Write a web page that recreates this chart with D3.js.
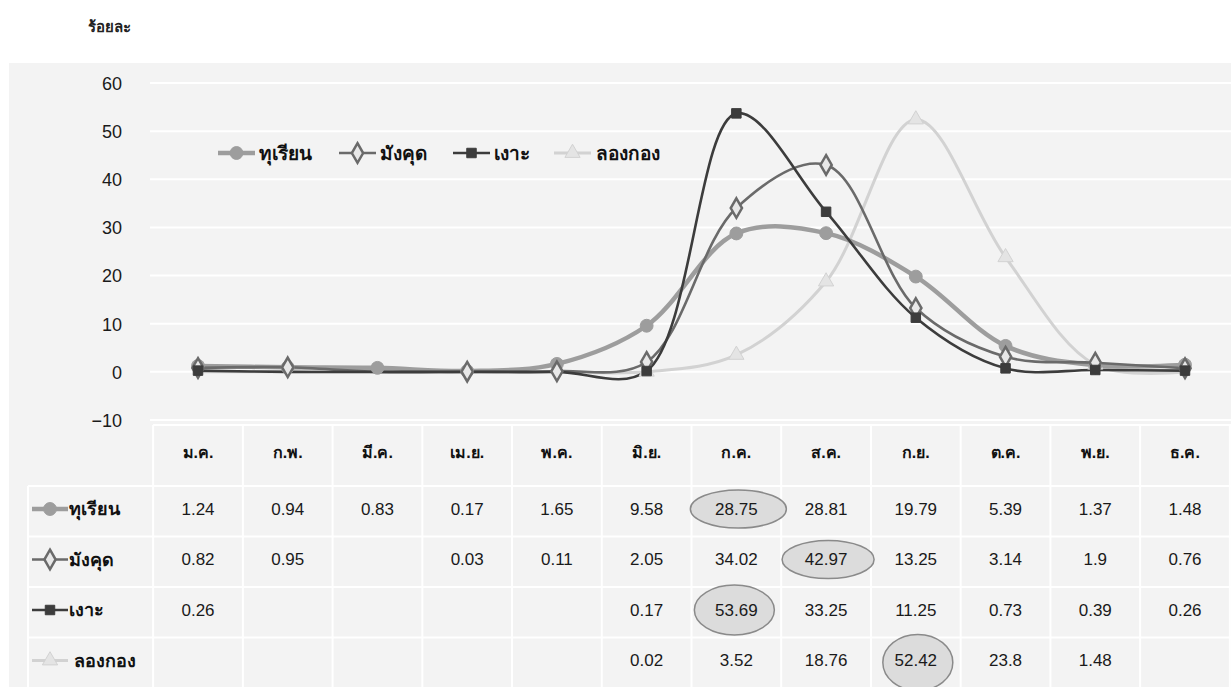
<!DOCTYPE html>
<html><head><meta charset="utf-8">
<script src="https://cdn.jsdelivr.net/npm/d3@7"></script>
<style>
body{margin:0;background:#fff;}
svg{display:block;font-family:"Liberation Sans",Arial,"Noto Sans",sans-serif;}
</style></head>
<body><svg id="c" width="1231" height="687"></svg>
<script>
const months = ["ม.ค.","ก.พ.","มี.ค.","เม.ย.","พ.ค.","มิ.ย.","ก.ค.","ส.ค.","ก.ย.","ต.ค.","พ.ย.","ธ.ค."];
const durian   = [1.24,0.94,0.83,0.17,1.65,9.58,28.75,28.81,19.79,5.39,1.37,1.48];
const mangosteen = [0.82,0.95,null,0.03,0.11,2.05,34.02,42.97,13.25,3.14,1.9,0.76];
const rambutan = [0.26,null,null,null,null,0.17,53.69,33.25,11.25,0.73,0.39,0.26];
const longkong = [null,null,null,null,null,0.02,3.52,18.76,52.42,23.8,1.48,null];
const seriesNames = ["ทุเรียน","มังคุด","เงาะ","ลองกอง"];
const yTicks = [-10,0,10,20,30,40,50,60];
const highlights = [[0,6],[1,7],[2,6],[3,8]]; // [series, month]
const yLabel = "ร้อยละ";

const seriesData = [durian, mangosteen, rambutan, longkong];
const styles = [
  {color:"#9d9d9d", width:4.5, marker:d3.symbolCircle, size:130, fill:"#9d9d9d"},
  {color:"#6a6a6a", width:2.6, marker:d3.symbolDiamond, size:110, fill:"#e8e8e8"},
  {color:"#3c3c3c", width:2.6, marker:d3.symbolSquare, size:90, fill:"#3c3c3c"},
  {color:"#d2d2d2", width:3, marker:d3.symbolTriangle, size:100, fill:"#e4e4e4"}
];

const svg = d3.select("#c");
const W=1231;
svg.append("rect").attr("x",9).attr("y",63).attr("width",W-9).attr("height",624).attr("fill","#f3f3f3");

const x = d3.scalePoint().domain(months).range([198,1185]);
const step = x.step();
const y = d3.scaleLinear().domain([-10,60]).range([420,83]);

svg.append("g").selectAll("line").data(yTicks).join("line")
  .attr("x1",150).attr("x2",W).attr("y1",d=>y(d)).attr("y2",d=>y(d))
  .attr("stroke","#fff").attr("stroke-width",2);

const yAxis = d3.axisLeft(y).tickValues(yTicks).tickSize(0).tickPadding(0)
  .tickFormat(d=> d<0 ? "\u2212"+Math.abs(d) : d);
const ga = svg.append("g").attr("transform","translate(122,0)").call(yAxis);
ga.select(".domain").remove();
ga.selectAll("text").attr("font-size",18).attr("fill","#1a1a1a").attr("dy","0.35em");

svg.append("text").attr("x",88).attr("y",32).attr("font-size",15).attr("font-weight","bold").attr("fill","#222").text(yLabel);

const line = d3.line().x((d,i)=>x(months[i])).y(d=>y(d==null?0:d)).curve(d3.curveCatmullRom.alpha(0.5));
const order=[3,0,1,2];
order.forEach(si=>{
  const s=styles[si];
  svg.append("path").datum(seriesData[si]).attr("d",line).attr("fill","none")
    .attr("stroke",s.color).attr("stroke-width",s.width).attr("stroke-linejoin","round");
});
order.forEach(si=>{
  const s=styles[si];
  svg.append("g").selectAll("path").data(seriesData[si].map((v,i)=>({v,i})).filter(d=>d.v!=null)).join("path")
    .attr("transform",d=>`translate(${x(months[d.i])},${y(d.v)})`)
    .attr("d",d3.symbol().type(s.marker).size(s.size))
    .attr("fill",s.fill).attr("stroke",s.color).attr("stroke-width",si==1?2.5:1);
});

// legend
const legX=[218,339,453,554], legT=[259,380,494,596];
seriesNames.forEach((n,si)=>{
  const s=styles[si], g=svg.append("g");
  g.append("line").attr("x1",legX[si]).attr("x2",legX[si]+37).attr("y1",153).attr("y2",153).attr("stroke",s.color).attr("stroke-width",s.width);
  g.append("path").attr("transform",`translate(${legX[si]+18.5},153)`).attr("d",d3.symbol().type(s.marker).size(s.size)).attr("fill",s.fill).attr("stroke",s.color).attr("stroke-width",si==1?2.5:1);
  g.append("text").attr("x",legT[si]).attr("y",153).attr("dy","0.35em").attr("font-size",19).attr("font-weight","bold").attr("fill","#111").text(n);
});

// table
const tTop=425, hdrH=61, rowH=50.5;
const colL = x(months[0])-step/2;
const tbl = svg.append("g");
const vlines=[colL, ...months.map(m=>x(m)+step/2)];
tbl.selectAll("line.v").data(vlines).join("line").attr("class","v")
  .attr("x1",d=>d).attr("x2",d=>d).attr("y1",tTop).attr("y2",687).attr("stroke","#fff").attr("stroke-width",2);
tbl.append("line").attr("x1",28).attr("x2",28).attr("y1",tTop+hdrH).attr("y2",687).attr("stroke","#fff").attr("stroke-width",2);
const hl=[tTop, tTop+hdrH, tTop+hdrH+rowH, tTop+hdrH+2*rowH, tTop+hdrH+3*rowH];
tbl.selectAll("line.h").data(hl).join("line").attr("class","h")
  .attr("x1",(d,i)=>i==0?colL:28).attr("x2",W).attr("y1",d=>d).attr("y2",d=>d).attr("stroke","#fff").attr("stroke-width",2);

tbl.selectAll("text.m").data(months).join("text").attr("class","m")
  .attr("x",d=>x(d)).attr("y",452).attr("text-anchor","middle").attr("dy","0.35em")
  .attr("font-size",16).attr("font-weight","bold").attr("fill","#111").text(d=>d);

const rowY = si => tTop+hdrH+rowH*si+23;
const ell = [[48,19],[46,19],[40,25],[35,28]];
highlights.forEach(([si,mi],k)=>{
  tbl.append("ellipse").attr("cx",x(months[mi])+(k==2?-2:2)).attr("cy",rowY(si)+(k==3?2:0))
    .attr("rx",ell[k][0]).attr("ry",ell[k][1]).attr("fill","#dcdcdc").attr("stroke","#8a8a8a").attr("stroke-width",1.5);
});

seriesData.forEach((arr,si)=>{
  const s=styles[si], ry=rowY(si);
  tbl.append("line").attr("x1",32).attr("x2",68).attr("y1",ry).attr("y2",ry).attr("stroke",s.color).attr("stroke-width",s.width);
  tbl.append("path").attr("transform",`translate(50,${ry})`).attr("d",d3.symbol().type(s.marker).size(s.size)).attr("fill",s.fill).attr("stroke",s.color).attr("stroke-width",si==1?2.5:1);
  tbl.append("text").attr("x",si==3?74:69).attr("y",ry).attr("dy","0.35em").attr("font-size",18).attr("font-weight","bold").attr("fill","#111").text(seriesNames[si]);
  tbl.selectAll(null).data(arr.map((v,i)=>({v,i})).filter(d=>d.v!=null)).join("text")
    .attr("x",d=>x(months[d.i])).attr("y",ry).attr("dy","0.35em").attr("text-anchor","middle")
    .attr("font-size",17).attr("fill","#1a1a1a").text(d=>d.v);
});
</script></body></html>
